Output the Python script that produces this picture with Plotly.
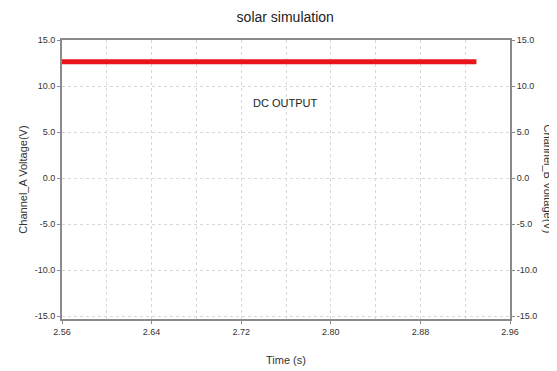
import plotly.graph_objects as go

time_s = [2.56, 2.60, 2.64, 2.68, 2.72, 2.76, 2.80, 2.84, 2.88, 2.92, 2.93]
channel_a = [12.65, 12.65, 12.65, 12.65, 12.65, 12.65, 12.65, 12.65, 12.65, 12.65, 12.65]
x_ticks = [2.56, 2.64, 2.72, 2.80, 2.88, 2.96]
x_labels = ["2.56", "2.64", "2.72", "2.80", "2.88", "2.96"]
y_ticks = [15.0, 10.0, 5.0, 0.0, -5.0, -10.0, -15.0]
y_labels = ["15.0", "10.0", "5.0", "0.0", "-5.0", "-10.0", "-15.0"]

font_family = "Liberation Sans Narrow, Liberation Sans, Arial, sans-serif"
title_family = "Liberation Sans, Arial, sans-serif"
grid_col = "#d8d8d8"
axis_col = "#8a8a8a"

fig = go.Figure()
fig.add_trace(go.Scatter(x=time_s, y=channel_a, mode="lines",
                         line=dict(color="#e8151b", width=5), showlegend=False,
                         hoverinfo="skip"))
fig.add_trace(go.Scatter(x=[time_s[0]], y=[channel_a[0]], yaxis="y2", mode="markers",
                         marker=dict(opacity=0), showlegend=False, hoverinfo="skip"))

fig.update_layout(
    width=549, height=363,
    margin=dict(l=54, r=47, t=32, b=52, autoexpand=False),
    paper_bgcolor="white", plot_bgcolor="white",
    font=dict(family=font_family, color="#333333", size=9),
    title=dict(text="solar simulation", x=0.505, xanchor="center", y=0.975, yanchor="middle",
               yref="container", font=dict(family=title_family, size=14, color="#222222")),
    xaxis=dict(range=[2.56, 2.96], tickvals=x_ticks, ticktext=x_labels, automargin=False,
               showgrid=True, gridcolor=grid_col, griddash="dot", gridwidth=1,
               minor=dict(dtick=0.04, tick0=2.56, showgrid=True, gridcolor=grid_col, griddash="dot"),
               showline=True, linecolor=axis_col, linewidth=2, mirror=True,
               ticks="outside", ticklen=3, tickcolor=axis_col, zeroline=False,
               title=dict(text="Time (s)", font=dict(family=title_family, size=11), standoff=21)),
    yaxis=dict(range=[-15.3, 15.0], tickvals=y_ticks, ticktext=y_labels, automargin=False,
               showgrid=True, gridcolor=grid_col, griddash="dot", gridwidth=1,
               showline=True, linecolor=axis_col, linewidth=2, mirror=True,
               ticks="outside", ticklen=3, tickcolor=axis_col, zeroline=False),
    yaxis2=dict(range=[-15.3, 15.0], tickvals=y_ticks, ticktext=y_labels, automargin=False,
                overlaying="y", side="right", showgrid=False, zeroline=False,
                showline=True, linecolor=axis_col, linewidth=2,
                ticks="outside", ticklen=3, tickcolor=axis_col),
    annotations=[
        dict(text="DC OUTPUT", x=2.759, y=8.2, xref="x", yref="y",
             showarrow=False, font=dict(size=11, color="#222222")),
        dict(text="Channel_A Voltage(V)", x=-0.089, y=0.5, xref="paper", yref="paper",
             textangle=-90, showarrow=False, xanchor="center", yanchor="middle",
             font=dict(family=title_family, size=11, color="#333333")),
        dict(text="Channel_B Voltage(V)", x=1.087, y=0.5, xref="paper", yref="paper",
             textangle=90, showarrow=False, xanchor="center", yanchor="middle",
             font=dict(family=title_family, size=11, color="#333333")),
    ],
)

fig.write_html("out.html")
